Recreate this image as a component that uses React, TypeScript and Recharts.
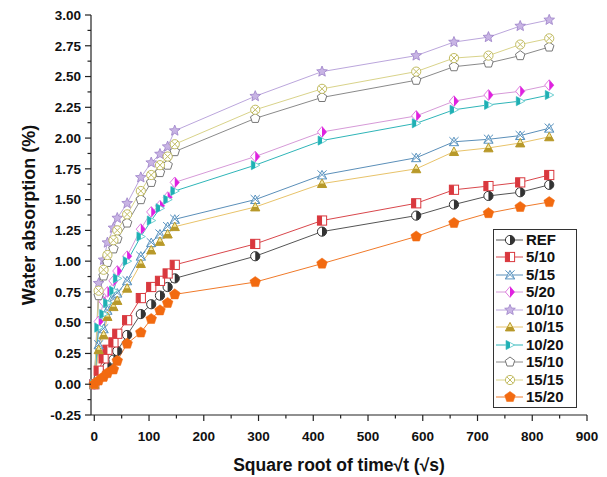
import React from "react";
import { LineChart, Line, XAxis, YAxis, Legend } from "recharts";

// square root of time (√s): 0, 1/5/10/20/30 min, 1..6 h, then 1,2,4,5,6,7,8 days
const SQRT_TIME = [0, 8, 17, 24, 35, 42, 60, 85, 104, 120, 134, 147, 294, 416, 588, 657, 720, 778, 831];

const REF = [0, 0.05, 0.09, 0.14, 0.2, 0.27, 0.4, 0.57, 0.65, 0.72, 0.79, 0.86, 1.04, 1.24, 1.37, 1.46, 1.53, 1.56, 1.62];
const MIX_5_10 = [0, 0.11, 0.21, 0.28, 0.34, 0.41, 0.52, 0.7, 0.79, 0.84, 0.9, 0.97, 1.14, 1.33, 1.47, 1.58, 1.61, 1.64, 1.7];
const MIX_5_15 = [0, 0.32, 0.45, 0.6, 0.69, 0.74, 0.84, 1.04, 1.15, 1.22, 1.28, 1.34, 1.5, 1.7, 1.84, 1.97, 1.99, 2.02, 2.08];
const MIX_5_20 = [0, 0.51, 0.67, 0.75, 0.84, 0.92, 1.04, 1.26, 1.4, 1.45, 1.52, 1.64, 1.85, 2.05, 2.18, 2.3, 2.35, 2.38, 2.43];
const MIX_10_10 = [0, 0.82, 1.01, 1.15, 1.27, 1.35, 1.47, 1.68, 1.8, 1.87, 1.93, 2.06, 2.34, 2.54, 2.67, 2.78, 2.82, 2.91, 2.96];
const MIX_10_15 = [0, 0.28, 0.4, 0.55, 0.63, 0.68, 0.78, 0.98, 1.09, 1.16, 1.22, 1.28, 1.44, 1.63, 1.75, 1.89, 1.92, 1.96, 2.01];
const MIX_10_20 = [0, 0.46, 0.57, 0.66, 0.76, 0.86, 1.0, 1.2, 1.33, 1.43, 1.5, 1.57, 1.78, 1.98, 2.12, 2.23, 2.27, 2.3, 2.35];
const MIX_15_10 = [0, 0.72, 0.88, 0.99, 1.1, 1.18, 1.31, 1.5, 1.64, 1.72, 1.78, 1.89, 2.16, 2.33, 2.47, 2.58, 2.61, 2.67, 2.74];
const MIX_15_15 = [0, 0.76, 0.93, 1.05, 1.17, 1.25, 1.38, 1.57, 1.7, 1.78, 1.85, 1.95, 2.23, 2.4, 2.54, 2.65, 2.67, 2.76, 2.81];
const MIX_15_20 = [0, 0.03, 0.06, 0.09, 0.12, 0.19, 0.33, 0.42, 0.53, 0.6, 0.66, 0.73, 0.83, 0.98, 1.2, 1.31, 1.39, 1.44, 1.48];

const X_MAJOR = [0, 100, 200, 300, 400, 500, 600, 700, 800, 900];
const Y_MAJOR = [-0.25, 0, 0.25, 0.5, 0.75, 1, 1.25, 1.5, 1.75, 2, 2.25, 2.5, 2.75, 3];

const FONT = '"Liberation Sans", Arial, sans-serif';

const SERIES = [
  { name: "REF", values: REF, line: "#555555", color: "#333333", shape: "halfCircle" },
  { name: "5/10", values: MIX_5_10, line: "#d9474c", color: "#d9383e", shape: "halfSquare" },
  { name: "5/15", values: MIX_5_15, line: "#5b8fb9", color: "#5b94c0", shape: "triX" },
  { name: "5/20", values: MIX_5_20, line: "#d69ad8", color: "#e020e0", shape: "halfDiamond" },
  { name: "10/10", values: MIX_10_10, line: "#bba6dc", color: "#9c80c8", shape: "star" },
  { name: "10/15", values: MIX_10_15, line: "#e8c36a", color: "#b8992a", shape: "halfTriUp" },
  { name: "10/20", values: MIX_10_20, line: "#2fb5b8", color: "#1fb0b4", shape: "halfTriRight" },
  { name: "15/10", values: MIX_15_10, line: "#8a8a8a", color: "#777777", shape: "pentagon" },
  { name: "15/15", values: MIX_15_15, line: "#d9d38a", color: "#c2bc62", shape: "circleX" },
  { name: "15/20", values: MIX_15_20, line: "#f07a2a", color: "#f26a10", shape: "pentagonFill" },
];

const rows = SQRT_TIME.map((x, i) => {
  const row: Record<string, number> = { x };
  SERIES.forEach((s) => (row[s.name] = s.values[i]));
  return row;
});

function polyPoints(cx: number, cy: number, r: number, n: number, inner?: number) {
  const pts: string[] = [];
  const count = inner ? n * 2 : n;
  for (let i = 0; i < count; i++) {
    const rr = inner && i % 2 === 1 ? inner : r;
    const a = -Math.PI / 2 + (i * 2 * Math.PI) / count;
    pts.push(`${cx + rr * Math.cos(a)},${cy + rr * Math.sin(a)}`);
  }
  return pts.join(" ");
}

function Marker({ shape, cx, cy, color }: { shape: string; cx: number; cy: number; color: string }) {
  const r = 4.6;
  switch (shape) {
    case "halfCircle":
      return (
        <g>
          <circle cx={cx} cy={cy} r={r} fill="#fff" stroke={color} strokeWidth={1} />
          <path d={`M${cx},${cy - r} A${r},${r} 0 0 1 ${cx},${cy + r} Z`} fill={color} />
        </g>
      );
    case "halfSquare":
      return (
        <g>
          <rect x={cx - r} y={cy - r} width={2 * r} height={2 * r} fill="#fff" stroke={color} strokeWidth={1} />
          <rect x={cx - r} y={cy - r} width={r} height={2 * r} fill={color} />
        </g>
      );
    case "triX":
      return (
        <g fill="none" stroke={color} strokeWidth={1}>
          <polygon points={`${cx},${cy - r} ${cx + r},${cy + r * 0.85} ${cx - r},${cy + r * 0.85}`} fill="#fff" />
          <line x1={cx - r} y1={cy - r} x2={cx + r} y2={cy + r * 0.85} />
          <line x1={cx + r} y1={cy - r} x2={cx - r} y2={cy + r * 0.85} />
        </g>
      );
    case "halfDiamond":
      return (
        <g>
          <polygon points={`${cx},${cy - r - 0.8} ${cx + r},${cy} ${cx},${cy + r + 0.8} ${cx - r},${cy}`} fill="#fff" stroke="#e07ce0" strokeWidth={1} />
          <polygon points={`${cx},${cy - r - 0.8} ${cx + r},${cy} ${cx},${cy + r + 0.8}`} fill={color} />
        </g>
      );
    case "star":
      return <polygon points={polyPoints(cx, cy, r + 1, 5, (r + 1) * 0.45)} fill="#c8b4e4" stroke={color} strokeWidth={0.8} />;
    case "halfTriUp":
      return (
        <g>
          <polygon points={`${cx},${cy - r} ${cx + r},${cy + r * 0.85} ${cx - r},${cy + r * 0.85}`} fill="#f6e8a0" stroke={color} strokeWidth={1} />
          <polygon points={`${cx - r * 0.54},${cy} ${cx + r * 0.54},${cy} ${cx + r},${cy + r * 0.85} ${cx - r},${cy + r * 0.85}`} fill={color} />
        </g>
      );
    case "halfTriRight":
      return (
        <g>
          <polygon points={`${cx - r * 0.85},${cy - r} ${cx + r},${cy} ${cx - r * 0.85},${cy + r}`} fill="#fff" stroke="#6fd0d2" strokeWidth={1} />
          <polygon points={`${cx - r * 0.85},${cy - r} ${cx},${cy - r * 0.54} ${cx},${cy + r * 0.54} ${cx - r * 0.85},${cy + r}`} fill={color} />
        </g>
      );
    case "pentagon":
      return <polygon points={polyPoints(cx, cy, r + 0.4, 5)} fill="#fff" stroke={color} strokeWidth={1} />;
    case "circleX": {
      const d = r * 0.7;
      return (
        <g stroke={color} strokeWidth={1}>
          <circle cx={cx} cy={cy} r={r} fill="#fff" />
          <line x1={cx - d} y1={cy - d} x2={cx + d} y2={cy + d} />
          <line x1={cx + d} y1={cy - d} x2={cx - d} y2={cy + d} />
        </g>
      );
    }
    default:
      return <polygon points={polyPoints(cx, cy, r + 1, 5)} fill={color} stroke={color} strokeWidth={0.5} />;
  }
}

const makeDot = (shape: string, color: string, name: string) => (props: any) => {
  const { cx, cy, index } = props;
  if (cx == null || cy == null) return <g key={`${name}-${index}`} />;
  return (
    <g key={`${name}-${index}`}>
      <Marker shape={shape} cx={cx} cy={cy} color={color} />
    </g>
  );
};

const XTick = (props: any) => {
  const { x, y, payload } = props;
  const major = X_MAJOR.includes(payload.value);
  return (
    <g>
      <line x1={x} x2={x} y1={y} y2={y + (major ? 6 : 3.5)} stroke="#222" strokeWidth={1.2} />
      {major && (
        <text x={x} y={y + 26} textAnchor="middle" fontFamily={FONT} fontWeight="bold" fontSize={13.5} fill="#111">
          {payload.value}
        </text>
      )}
    </g>
  );
};

const YTick = (props: any) => {
  const { x, y, payload } = props;
  const major = Y_MAJOR.includes(payload.value);
  return (
    <g>
      <line x1={x} x2={x - (major ? 6 : 3.5)} y1={y} y2={y} stroke="#222" strokeWidth={1.2} />
      {major && (
        <text x={x - 10} y={y + 4.8} textAnchor="end" fontFamily={FONT} fontWeight="bold" fontSize={13.5} fill="#111">
          {payload.value.toFixed(2)}
        </text>
      )}
    </g>
  );
};

const xTicks = [...X_MAJOR, ...X_MAJOR.slice(0, -1).map((v) => v + 50)].sort((a, b) => a - b);
const yTicks = [...Y_MAJOR, ...Y_MAJOR.slice(0, -1).map((v) => v + 0.125)].sort((a, b) => a - b);

const XTitle = ({ viewBox }: any) => (
  <text x={viewBox.x + viewBox.width / 2} y={viewBox.y + 56} textAnchor="middle" fontFamily={FONT} fontWeight="bold" fontSize={17.5} fill="#111">
    Square root of time√t (√s)
  </text>
);

const YTitle = ({ viewBox }: any) => {
  const cx = viewBox.x - 2;
  const cy = viewBox.y + viewBox.height / 2;
  return (
    <text x={cx} y={cy} dy="0.35em" transform={`rotate(-90, ${cx}, ${cy})`} textAnchor="middle" fontFamily={FONT} fontWeight="bold" fontSize={18} fill="#111">
      Water absorption (%)
    </text>
  );
};

const LegendBox = () => (
  <div style={{ border: "1px solid #333", background: "#fff", width: 82, padding: "1px 0", fontFamily: FONT, fontWeight: "bold", fontSize: 15, color: "#111" }}>
    {SERIES.map((s) => (
      <div key={s.name} style={{ display: "flex", alignItems: "center", height: 17.5 }}>
        <svg width={31} height={16} style={{ display: "block" }}>
          <line x1={2} x2={29} y1={8} y2={8} stroke={s.line} strokeWidth={1} />
          <Marker shape={s.shape} cx={16} cy={8} color={s.color} />
        </svg>
        <span style={{ marginLeft: 1, lineHeight: "16px" }}>{s.name}</span>
      </div>
    ))}
  </div>
);

export default function App() {
  return (
    <div style={{ position: "absolute", left: 0, top: 0, width: 607, height: 477, background: "#fff" }}>
      <LineChart width={607} height={477} data={rows} margin={{ top: 15, right: 20, bottom: 32, left: 31 }}>
        <XAxis
          type="number"
          dataKey="x"
          domain={[-6, 900]}
          ticks={xTicks}
          interval={0}
          tick={<XTick />}
          tickSize={0}
          tickMargin={0}
          tickLine={false}
          axisLine={{ stroke: "#222", strokeWidth: 1.2 }}
          height={30}
          label={<XTitle />}
        />
        <YAxis
          type="number"
          domain={[-0.25, 3]}
          ticks={yTicks}
          interval={0}
          tick={<YTick />}
          tickSize={0}
          tickMargin={0}
          tickLine={false}
          axisLine={{ stroke: "#222", strokeWidth: 1.2 }}
          width={60}
          label={<YTitle />}
        />
        <Legend layout="vertical" align="center" verticalAlign="middle" wrapperStyle={{ left: 493, top: 229, width: 84 }} content={<LegendBox />} />
        {SERIES.map((s) => (
          <Line
            key={s.name}
            dataKey={s.name}
            stroke={s.line}
            strokeWidth={1}
            dot={makeDot(s.shape, s.color, s.name)}
            activeDot={false}
            isAnimationActive={false}
          />
        ))}
      </LineChart>
    </div>
  );
}
